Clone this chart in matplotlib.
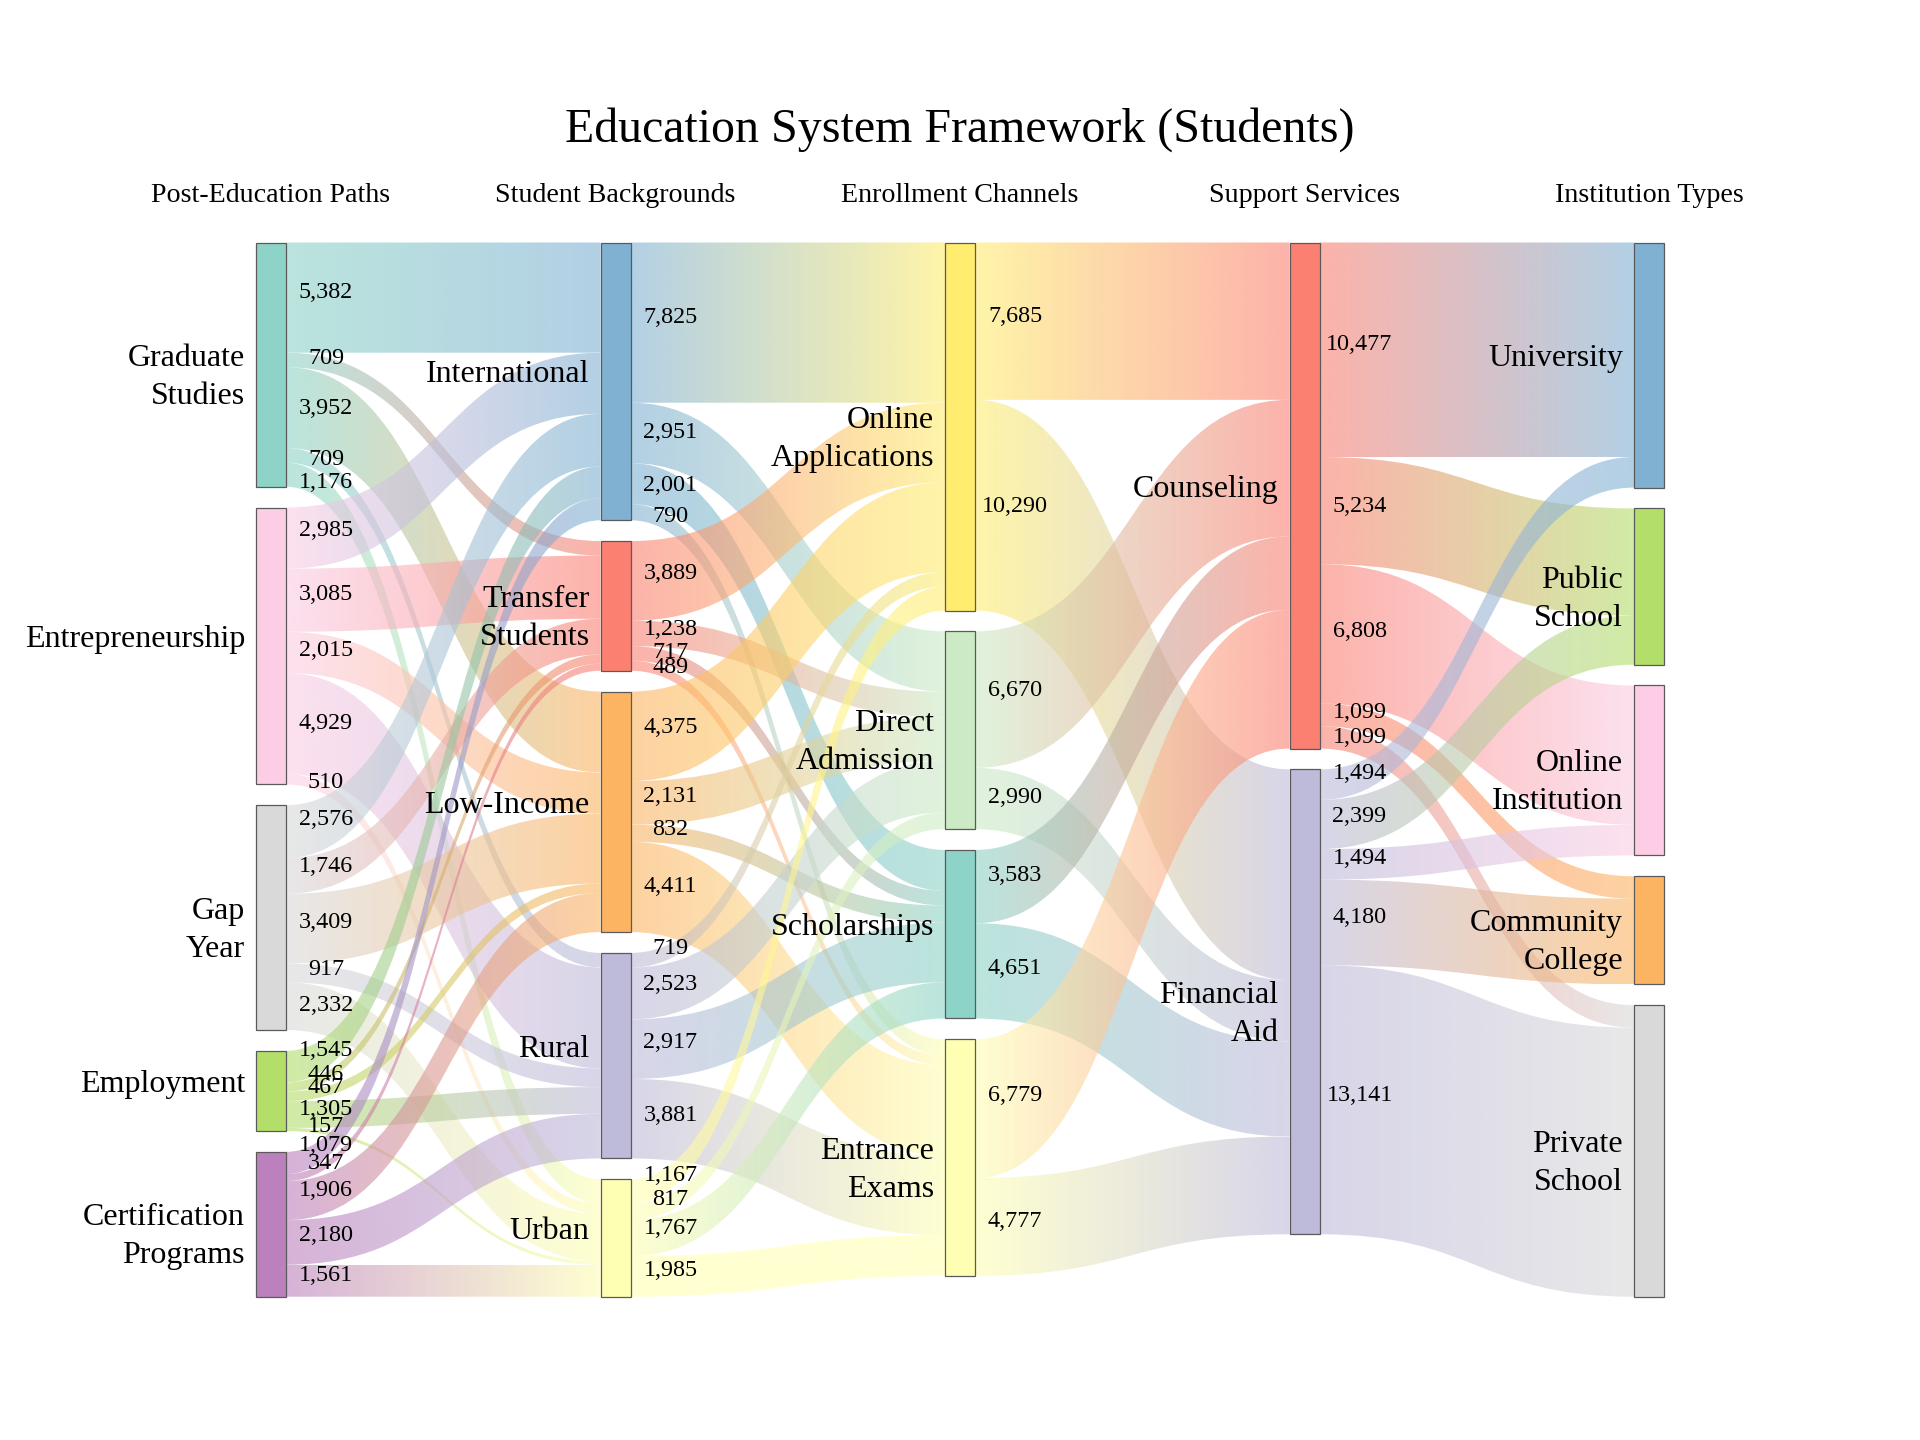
import numpy as np
import matplotlib
matplotlib.use("Agg")
import matplotlib.pyplot as plt
from matplotlib.path import Path
from matplotlib.patches import PathPatch, Rectangle
from matplotlib.colors import to_rgb

# ---------------- data ----------------
title = "Education System Framework (Students)"
column_titles = ["Post-Education Paths", "Student Backgrounds", "Enrollment Channels",
                 "Support Services", "Institution Types"]

post_paths = ["Graduate Studies", "Entrepreneurship", "Gap Year", "Employment", "Certification Programs"]
backgrounds = ["International", "Transfer Students", "Low-Income", "Rural", "Urban"]
channels = ["Online Applications", "Direct Admission", "Scholarships", "Entrance Exams"]
services = ["Counseling", "Financial Aid"]
institutions = ["University", "Public School", "Online Institution", "Community College", "Private School"]

# flows: rows = source nodes, columns = target nodes
paths_to_backgrounds = [
    [5382, 709, 3952, 709, 1176],
    [2985, 3085, 2015, 4929, 510],
    [2576, 1746, 3409, 917, 2332],
    [1545, 446, 467, 1305, 157],
    [1079, 347, 1906, 2180, 1561],
]
backgrounds_to_channels = [
    [7825, 2951, 2001, 790],
    [3889, 1238, 717, 489],
    [4375, 2131, 832, 4411],
    [719, 2523, 2917, 3881],
    [1167, 817, 1767, 1985],
]
channels_to_services = [
    [7685, 10290],
    [6670, 2990],
    [3583, 4651],
    [6779, 4777],
]
services_to_institutions = [
    [10477, 5234, 6808, 1099, 1099],
    [1494, 2399, 1494, 4180, 13141],
]

path_colors = ["#8dd3c7", "#fccde5", "#d9d9d9", "#b3de69", "#bc80bd"]
background_colors = ["#80b1d3", "#fb8072", "#fdb462", "#bebada", "#ffffb3"]
channel_colors = ["#ffed6f", "#ccebc5", "#8dd3c7", "#ffffb3"]
service_colors = ["#fb8072", "#bebada"]
institution_colors = ["#80b1d3", "#b3de69", "#fccde5", "#fdb462", "#d9d9d9"]

layers = [post_paths, backgrounds, channels, services, institutions]
layer_colors = [path_colors, background_colors, channel_colors, service_colors, institution_colors]
flows = [paths_to_backgrounds, backgrounds_to_channels, channels_to_services, services_to_institutions]

# ---------------- layout ----------------
W, H = 1920, 1440
FONT = ["Liberation Serif", "DejaVu Serif"]
x_left = [256 + 344.5 * i for i in range(5)]
node_w = 30
top = 242.5
gap = 20.8
total = sum(sum(r) for r in paths_to_backgrounds)
k = (1054.2 - 4 * gap) / total
link_alpha = 0.6
label_dx = 40
curve_dx = 35

fig = plt.figure(figsize=(19.2, 14.4), dpi=100)
ax = fig.add_axes([0, 0, 1, 1])
ax.set_xlim(0, W)
ax.set_ylim(H, 0)
ax.set_autoscale_on(False)
ax.axis("off")

# node sizes
node_vals = []
for li in range(5):
    if li < 4:
        vals = [sum(r) for r in flows[li]]
    else:
        vals = list(np.array(flows[3]).sum(axis=0))
    node_vals.append(vals)

node_y = []
for li in range(5):
    ys = []
    y = top
    for v in node_vals[li]:
        ys.append((y, y + v * k))
        y += v * k + gap
    node_y.append(ys)

# parameter along the link curve where the value label sits
span = x_left[1] - (x_left[0] + node_w)
tg = np.linspace(0, 1, 2001)
xfrac = 1.5 * tg * (1 - tg) + tg ** 3
t_lab = np.interp(curve_dx / span, xfrac, tg)
yfrac_lab = 3 * t_lab ** 2 - 2 * t_lab ** 3

# links
for li in range(4):
    m = flows[li]
    ns, nt = len(m), len(m[0])
    out_off = [node_y[li][s][0] for s in range(ns)]
    in_off = [node_y[li + 1][t][0] for t in range(nt)]
    in_pos, out_pos = {}, {}
    for s in range(ns):
        for t in range(nt):
            h = m[s][t] * k
            out_pos[(s, t)] = (out_off[s], out_off[s] + h)
            out_off[s] += h
    for t in range(nt):
        for s in range(ns):
            h = m[s][t] * k
            in_pos[(s, t)] = (in_off[t], in_off[t] + h)
            in_off[t] += h
    x0 = x_left[li] + node_w
    x1 = x_left[li + 1]
    xm = (x0 + x1) / 2
    for s in range(ns):
        for t in range(nt):
            y0t, y0b = out_pos[(s, t)]
            y1t, y1b = in_pos[(s, t)]
            verts = [(x0, y0t), (xm, y0t), (xm, y1t), (x1, y1t),
                     (x1, y1b), (xm, y1b), (xm, y0b), (x0, y0b), (x0, y0t)]
            codes = [Path.MOVETO, Path.CURVE4, Path.CURVE4, Path.CURVE4,
                     Path.LINETO, Path.CURVE4, Path.CURVE4, Path.CURVE4, Path.CLOSEPOLY]
            patch = PathPatch(Path(verts, codes), facecolor="none", edgecolor="none")
            ax.add_patch(patch)
            c0 = np.array(to_rgb(layer_colors[li][s]))
            c1 = np.array(to_rgb(layer_colors[li + 1][t]))
            tt = np.linspace(0, 1, 256)[:, None]
            grad = np.ones((1, 256, 4))
            grad[0, :, :3] = c0 * (1 - tt) + c1 * tt
            grad[0, :, 3] = link_alpha
            ylo, yhi = min(y0t, y1t), max(y0b, y1b)
            im = ax.imshow(grad, extent=(x0, x1, yhi, ylo), aspect="auto",
                           interpolation="bilinear", zorder=1)
            im.set_clip_path(patch)
            # value label on the link centre line, near the source
            yc0 = (y0t + y0b) / 2
            yc1 = (y1t + y1b) / 2
            ylab = yc0 + (yc1 - yc0) * yfrac_lab
            ax.text(x0 + label_dx, ylab + 0.5, f"{m[s][t]:,}", ha="center", va="baseline",
                    fontsize=17.4, family=FONT, color="black", zorder=5)

# nodes and labels
for li in range(5):
    for ni, name in enumerate(layers[li]):
        y0, y1 = node_y[li][ni]
        ax.add_patch(Rectangle((x_left[li], y0), node_w, y1 - y0,
                               facecolor=layer_colors[li][ni], edgecolor="#5a5a5a",
                               linewidth=0.9, zorder=3))
        yc = (y0 + y1) / 2
        for j, line in enumerate(name.split(" ")):
            ax.text(x_left[li] - 11, yc + 1 + j * 38, line, ha="right", va="baseline",
                    fontsize=23, family=FONT, color="black", zorder=6)

# column titles
for li, ct in enumerate(column_titles):
    ax.text(x_left[li] + node_w / 2, 202.5, ct, ha="center", va="baseline",
            fontsize=20.2, family=FONT, color="black")

ax.text(W / 2, 142, title, ha="center", va="baseline", fontsize=34.5, family=FONT, color="black")

fig.savefig("out.png", dpi=100)
